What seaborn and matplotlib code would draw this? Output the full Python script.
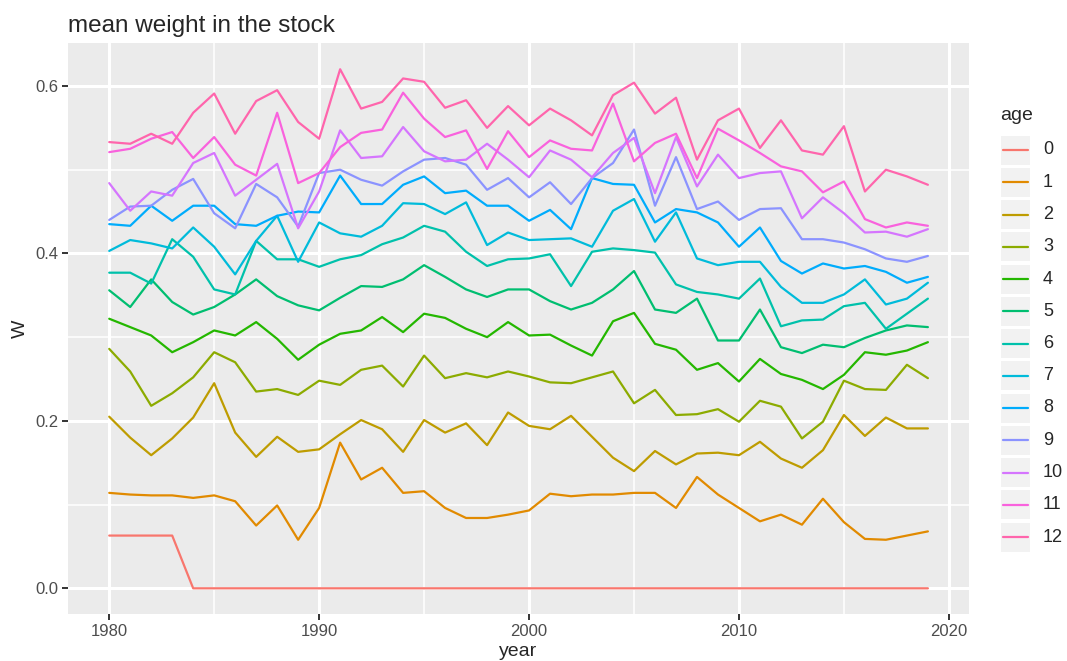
import numpy as np
import pandas as pd
import matplotlib
matplotlib.use("Agg")
import matplotlib.pyplot as plt
import seaborn as sns
from matplotlib.patches import Rectangle
from matplotlib.lines import Line2D

# anos e pesos medios por idade
years = list(range(1980, 2020))
ages = list(range(13))

w0 = [0.063, 0.063, 0.063, 0.063] + [0.0] * 36
w1 = [0.114, 0.112, 0.111, 0.111, 0.108, 0.111, 0.104, 0.075, 0.099, 0.058,
      0.096, 0.174, 0.130, 0.144, 0.114, 0.116, 0.096, 0.084, 0.084, 0.088,
      0.093, 0.113, 0.110, 0.112, 0.112, 0.114, 0.114, 0.096, 0.133, 0.112,
      0.096, 0.080, 0.088, 0.076, 0.107, 0.079, 0.059, 0.058, 0.063, 0.068]
w2 = [0.205, 0.180, 0.159, 0.179, 0.204, 0.245, 0.186, 0.157, 0.181, 0.163,
      0.166, 0.184, 0.201, 0.190, 0.163, 0.201, 0.186, 0.197, 0.171, 0.210,
      0.194, 0.190, 0.206, 0.181, 0.156, 0.140, 0.164, 0.148, 0.161, 0.162,
      0.159, 0.175, 0.155, 0.144, 0.165, 0.207, 0.182, 0.204, 0.191, 0.191]
w3 = [0.286, 0.259, 0.218, 0.233, 0.252, 0.282, 0.270, 0.235, 0.238, 0.231,
      0.248, 0.243, 0.261, 0.266, 0.241, 0.278, 0.251, 0.257, 0.252, 0.259,
      0.253, 0.246, 0.245, 0.252, 0.259, 0.221, 0.237, 0.207, 0.208, 0.214,
      0.199, 0.224, 0.217, 0.179, 0.199, 0.248, 0.238, 0.237, 0.267, 0.251]
w4 = [0.322, 0.312, 0.302, 0.282, 0.294, 0.308, 0.302, 0.318, 0.298, 0.273,
      0.291, 0.304, 0.308, 0.324, 0.306, 0.328, 0.323, 0.310, 0.300, 0.318,
      0.302, 0.303, 0.290, 0.278, 0.319, 0.329, 0.292, 0.285, 0.261, 0.269,
      0.247, 0.274, 0.256, 0.249, 0.238, 0.255, 0.282, 0.279, 0.284, 0.294]
w5 = [0.356, 0.336, 0.369, 0.342, 0.327, 0.336, 0.351, 0.369, 0.349, 0.338,
      0.332, 0.347, 0.361, 0.360, 0.369, 0.386, 0.372, 0.357, 0.348, 0.357,
      0.357, 0.343, 0.333, 0.341, 0.357, 0.379, 0.333, 0.329, 0.346, 0.296,
      0.296, 0.333, 0.288, 0.281, 0.291, 0.288, 0.299, 0.308, 0.314, 0.312]
w6 = [0.377, 0.377, 0.364, 0.417, 0.396, 0.357, 0.351, 0.415, 0.393, 0.393,
      0.384, 0.393, 0.398, 0.411, 0.419, 0.433, 0.426, 0.402, 0.385, 0.393,
      0.394, 0.399, 0.361, 0.402, 0.406, 0.404, 0.401, 0.363, 0.354, 0.351,
      0.346, 0.370, 0.313, 0.320, 0.321, 0.337, 0.341, 0.310, 0.328, 0.346]
w7 = [0.403, 0.416, 0.412, 0.406, 0.431, 0.408, 0.375, 0.415, 0.445, 0.390,
      0.437, 0.424, 0.420, 0.433, 0.460, 0.459, 0.447, 0.461, 0.410, 0.425,
      0.416, 0.417, 0.418, 0.408, 0.451, 0.465, 0.414, 0.449, 0.394, 0.386,
      0.390, 0.390, 0.360, 0.341, 0.341, 0.351, 0.369, 0.339, 0.346, 0.365]
w8 = [0.435, 0.433, 0.457, 0.439, 0.457, 0.457, 0.435, 0.433, 0.445, 0.450,
      0.449, 0.493, 0.459, 0.459, 0.482, 0.492, 0.472, 0.475, 0.457, 0.457,
      0.439, 0.452, 0.429, 0.490, 0.483, 0.482, 0.437, 0.453, 0.449, 0.437,
      0.408, 0.431, 0.391, 0.376, 0.388, 0.382, 0.385, 0.378, 0.365, 0.372]
w9 = [0.440, 0.456, 0.457, 0.476, 0.489, 0.448, 0.430, 0.483, 0.467, 0.432,
      0.496, 0.500, 0.488, 0.481, 0.498, 0.512, 0.514, 0.506, 0.476, 0.490,
      0.467, 0.485, 0.459, 0.490, 0.508, 0.548, 0.457, 0.515, 0.453, 0.462,
      0.440, 0.453, 0.454, 0.417, 0.417, 0.413, 0.405, 0.394, 0.390, 0.397]
w10 = [0.484, 0.451, 0.474, 0.469, 0.508, 0.520, 0.469, 0.488, 0.507, 0.430,
       0.474, 0.547, 0.514, 0.516, 0.551, 0.522, 0.510, 0.512, 0.531, 0.512,
       0.491, 0.523, 0.512, 0.491, 0.520, 0.538, 0.472, 0.539, 0.480, 0.518,
       0.490, 0.496, 0.498, 0.442, 0.467, 0.448, 0.425, 0.426, 0.420, 0.429]
w11 = [0.521, 0.525, 0.537, 0.545, 0.514, 0.539, 0.506, 0.493, 0.568, 0.484,
       0.496, 0.527, 0.544, 0.548, 0.592, 0.561, 0.539, 0.547, 0.501, 0.546,
       0.515, 0.535, 0.525, 0.523, 0.579, 0.510, 0.532, 0.543, 0.490, 0.549,
       0.535, 0.520, 0.504, 0.498, 0.473, 0.486, 0.441, 0.431, 0.437, 0.433]
w12 = [0.533, 0.531, 0.543, 0.531, 0.568, 0.591, 0.543, 0.582, 0.595, 0.557,
       0.537, 0.620, 0.573, 0.581, 0.609, 0.605, 0.574, 0.583, 0.550, 0.576,
       0.553, 0.573, 0.559, 0.541, 0.589, 0.604, 0.567, 0.586, 0.512, 0.559,
       0.573, 0.526, 0.559, 0.523, 0.518, 0.552, 0.474, 0.500, 0.492, 0.482]

# cores padrao do ggplot (hue_pal) para 13 niveis
colors = ["#F8766D", "#E18A00", "#BE9C00", "#8CAB00", "#24B700", "#00BE70",
          "#00C1AB", "#00BBDA", "#00ACFC", "#8B93FF", "#D575FE", "#F962DD",
          "#FF65AC"]

series = [w0, w1, w2, w3, w4, w5, w6, w7, w8, w9, w10, w11, w12]
df = pd.concat([pd.DataFrame({"year": years, "W": s, "age": a})
                for a, s in zip(ages, series)], ignore_index=True)

sns.set_theme(style="darkgrid")
plt.rcParams["font.family"] = ["Liberation Sans", "DejaVu Sans"]

fig = plt.figure(figsize=(10.67, 6.61), dpi=100)
ax = fig.add_axes([0.064, 0.0707, 0.844, 0.8638])

sns.lineplot(data=df, x="year", y="W", hue="age", palette=colors,
             linewidth=1.6, legend=False, ax=ax)

ax.set_facecolor("#EBEBEB")
ax.set_xlim(1978.05, 2020.95)
ax.set_ylim(-0.031, 0.651)
ax.set_xticks([1980, 1990, 2000, 2010, 2020])
ax.set_yticks([0.0, 0.2, 0.4, 0.6])
ax.set_yticklabels(["0.0", "0.2", "0.4", "0.6"])
ax.set_xticks([1985, 1995, 2005, 2015], minor=True)
ax.set_yticks([0.1, 0.3, 0.5], minor=True)
ax.grid(which="major", color="white", linewidth=2.2)
ax.grid(which="minor", color="white", linewidth=1.1)
ax.set_axisbelow(True)
for sp in ax.spines.values():
    sp.set_visible(False)
ax.tick_params(which="major", length=4, width=1.4, color="#333333",
               labelsize=12, labelcolor="#4D4D4D", pad=3, bottom=True, left=True)
ax.tick_params(which="minor", length=0)
ax.set_xlabel("year", fontsize=14, labelpad=3)
ax.set_ylabel("W", fontsize=14, labelpad=5)
ax.set_title("mean weight in the stock", loc="left", fontsize=17.5, pad=8)

# legenda estilo ggplot
W, H = 1067, 661
fig.text(1000 / W, 1 - 115 / H, "age", fontsize=14, va="center", ha="left")
for i, a in enumerate(ages):
    yc = 150 + i * 32.25
    fig.add_artist(Rectangle((1001 / W, 1 - (yc + 14.5) / H), 29 / W, 29 / H,
                             transform=fig.transFigure, facecolor="#F2F2F2",
                             edgecolor="none"))
    fig.add_artist(Line2D([1003 / W, 1028 / W], [1 - yc / H, 1 - yc / H],
                          transform=fig.transFigure, color=colors[i],
                          linewidth=1.6))
    fig.text(1043 / W, 1 - yc / H, str(a), fontsize=13, va="center", ha="left")

fig.savefig("out.png", dpi=100)
